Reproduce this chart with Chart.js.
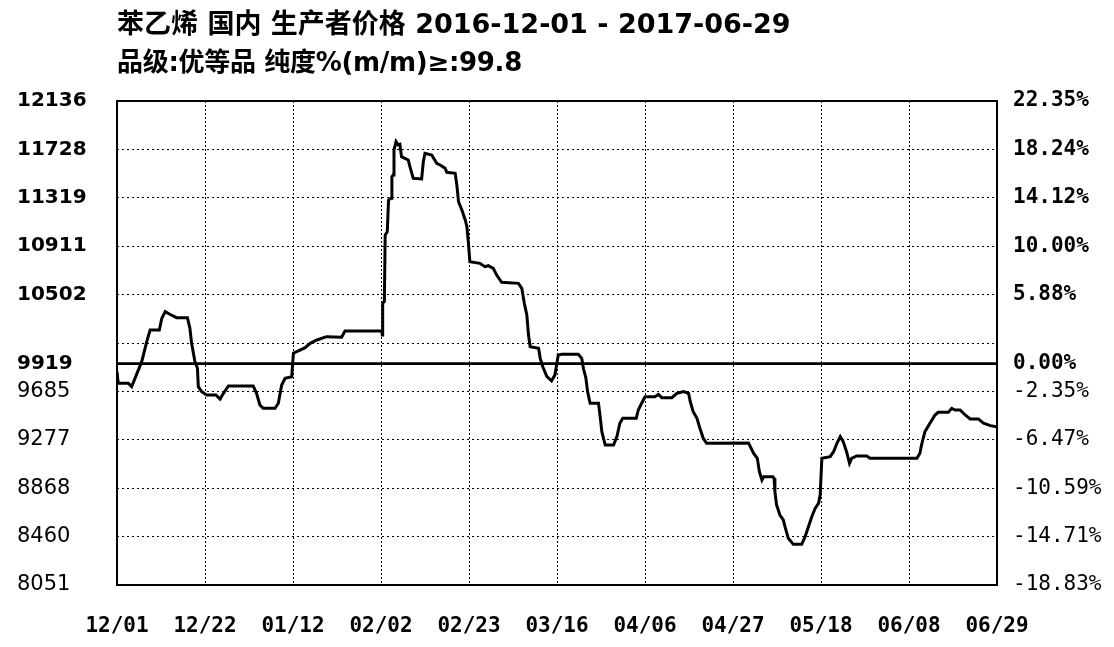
<!DOCTYPE html>
<html>
<head>
<meta charset="utf-8">
<script src="https://cdn.jsdelivr.net/npm/chart.js@4.4.0/dist/chart.umd.min.js"></script>
<style>
  body { margin: 0; background: #fff; }
  #wrap { position: relative; width: 1114px; height: 647px; }
  .title {
    position: absolute; left: 117px; white-space: nowrap; color: #000;
    font-family: "DejaVu Sans", "Noto Sans CJK SC", sans-serif;
    font-weight: bold; font-size: 27px; line-height: 27px;
  }
  canvas { position: absolute; left: 0; top: 0; }
</style>
</head>
<body>
<div id="wrap">
  <canvas id="priceChart" width="1114" height="647"></canvas>
  <div class="title" style="top:10px">苯乙烯 国内 生产者价格 2016-12-01 - 2017-06-29</div>
  <div class="title" style="top:49px; font-size:26px; letter-spacing:-0.3px">品级:优等品 纯度%(m/m)≥:99.8</div>
</div>
<script>
// days since 2016-12-01
const days = [0, 0.3, 2.7, 3.5, 5.9, 7.1, 7.9, 10.1, 10.7, 11.5, 12.6, 14.2, 16.8, 17.4, 17.8, 18.6, 19.2, 19.4, 20.2, 21.4,
  23.6, 24.6, 25.4, 26.6, 32.5, 33.3, 34.1, 34.9, 37.7, 38.5, 39.3, 40.1, 41.7, 42.1, 44.9, 46.1, 47.7, 50.0, 53.6, 54.4,
  63.2, 63.3, 63.4, 63.8, 64.0, 64.5, 64.8, 65.4, 65.6, 65.9, 66.1, 66.6, 67.1, 67.5, 67.9, 68.7, 69.5, 69.9, 70.7, 72.7,
  73.1, 73.5, 75.1, 76.3, 77.1, 78.3, 78.7, 80.7, 81.1, 81.5, 82.3, 83.1, 83.5, 83.9, 84.2, 86.6, 87.8, 88.6, 89.8, 90.6,
  91.8, 95.8, 96.6, 97.2, 97.8, 98.2, 98.6, 100.6, 101.0, 101.6, 102.6, 103.7, 104.5, 104.9, 105.3, 106.1, 110.1, 110.9, 111.3, 111.9,
  112.3, 112.9, 114.9, 115.3, 115.7, 116.5, 118.5, 119.3, 120.0, 120.7, 123.9, 124.4, 125.2, 126.0, 128.4, 129.2, 130.0, 132.4, 133.6, 135.2,
  136.4, 136.8, 137.5, 138.4, 139.1, 139.9, 140.7, 150.7, 151.9, 152.8, 153.3, 153.9, 154.3, 156.5, 156.8, 157.0, 157.4, 158.2, 159.0, 159.4,
  160.2, 161.4, 163.4, 164.2, 165.0, 165.8, 166.6, 167.4, 167.8, 168.2, 170.2, 171.0, 171.8, 172.6, 173.3, 174.1, 174.8, 175.3, 176.5, 178.9,
  179.7, 190.9, 191.6, 192.0, 192.8, 194.0, 195.2, 196.0, 198.4, 199.2, 200.0, 201.2, 202.4, 203.6, 205.6, 206.8, 208.4, 209.8]
const prices = [9851, 9753, 9753, 9725, 9936, 10105, 10203, 10203, 10302, 10358, 10336, 10307, 10307, 10218, 10091, 9936, 9880, 9725, 9683, 9655,
  9655, 9621, 9669, 9731, 9731, 9669, 9570, 9542, 9542, 9585, 9739, 9796, 9809, 10007, 10054, 10091, 10119, 10147, 10142, 10195,
  10195, 10161, 10429, 10443, 11005, 11033, 11300, 11315, 11497, 11511, 11722, 11793, 11765, 11770, 11666, 11652, 11638, 11582, 11483, 11478,
  11624, 11695, 11680, 11610, 11596, 11568, 11534, 11526, 11427, 11286, 11216, 11132, 11075, 10921, 10780, 10766, 10738, 10746, 10724, 10667,
  10606, 10597, 10555, 10429, 10330, 10161, 10062, 10049, 9964, 9893, 9809, 9773, 9823, 9908, 9992, 9998, 9998, 9964, 9880, 9796,
  9683, 9585, 9585, 9472, 9345, 9233, 9233, 9303, 9416, 9458, 9458, 9528, 9585, 9640, 9640, 9660, 9632, 9632, 9669, 9683,
  9669, 9598, 9514, 9458, 9374, 9289, 9247, 9250, 9163, 9120, 9007, 8937, 8965, 8965, 8952, 8839, 8726, 8642, 8600, 8543,
  8445, 8394, 8394, 8459, 8543, 8627, 8698, 8740, 8811, 9120, 9134, 9176, 9247, 9303, 9261, 9176, 9078, 9120, 9140, 9140,
  9120, 9120, 9163, 9233, 9345, 9416, 9486, 9509, 9509, 9542, 9528, 9528, 9486, 9452, 9452, 9416, 9396, 9387]

const basePrice = 9919

const xTickDays = [0, 21, 42, 63, 84, 105, 126, 147, 168, 189, 210]
const xTickLabels = ['12/01', '12/22', '01/12', '02/02', '02/23', '03/16', '04/06', '04/27', '05/18', '06/08', '06/29']

const yTickValues = [12136, 11727.5, 11319, 10910.5, 10502, 10093.5, 9919, 9685, 9276.5, 8868, 8459.5, 8051]
const yTickLabels = ['12136', '11728', '11319', '10911', '10502', '', '9919', '9685', '9277', '8868', '8460', '8051']
const pctTickLabels = ['22.35%', '18.24%', '14.12%', '10.00%', '5.88%', '', '0.00%', '-2.35%', '-6.47%', '-10.59%', '-14.71%', '-18.83%']

const plotBox = {
  id: 'plotBox',
  afterDraw(chart) {
    const { ctx, chartArea: a } = chart
    ctx.save()
    ctx.strokeStyle = '#000'
    ctx.lineWidth = 2
    ctx.strokeRect(a.left, a.top, a.right - a.left, a.bottom - a.top)
    ctx.restore()
  }
}

const setTicks = (values) => (axis) => { axis.ticks = values.map(v => ({ value: v })) }
// labels above the base price are bold, the others are plain
const upperBold = (family, bold, plain) => (c) => {
  const up = c.tick && c.tick.value >= basePrice
  return { family: family, size: up ? bold : plain, weight: up ? 'bold' : 'normal' }
}

const ctx = document.getElementById('priceChart')
new Chart(ctx, {
  type: 'line',
  data: {
    datasets: [
      {
        data: days.map((d, i) => ({ x: d, y: prices[i] })),
        borderColor: '#000',
        borderWidth: 3,
        pointRadius: 0,
        tension: 0,
        order: 0
      },
      {
        data: [{ x: 0, y: basePrice }, { x: 210, y: basePrice }],
        borderColor: '#000',
        borderWidth: 2.8,
        pointRadius: 0,
        order: 1
      }
    ]
  },
  options: {
    responsive: false,
    animation: false,
    layout: { padding: { left: 17, top: 101, right: 0, bottom: 0 } },
    plugins: { legend: { display: false }, tooltip: { enabled: false } },
    scales: {
      x: {
        type: 'linear', min: 0, max: 210,
        afterBuildTicks: setTicks(xTickDays),
        afterFit: (s) => { s.height = 62 },
        grid: { color: '#000', lineWidth: 1, drawTicks: false },
        border: { display: false, dash: [2, 2] },
        ticks: {
          autoSkip: false, maxRotation: 0, padding: 29, color: '#000',
          font: { family: 'DejaVu Sans Mono', size: 21, weight: 'bold' },
          callback: (v, i) => xTickLabels[i]
        }
      },
      y: {
        type: 'linear', position: 'left', min: 8051, max: 12136,
        afterBuildTicks: setTicks(yTickValues),
        afterFit: (s) => { s.width = 100 },
        grid: { color: (c) => c.tick && c.tick.value === basePrice ? 'rgba(0,0,0,0)' : '#000', lineWidth: 1, drawTicks: false },
        border: { display: false, dash: [2, 3] },
        ticks: {
          autoSkip: false, crossAlign: 'far', color: '#000',
          font: upperBold('DejaVu Sans', 20, 21),
          callback: (v, i) => yTickLabels[i]
        }
      },
      y2: {
        type: 'linear', position: 'right', min: 8051, max: 12136,
        afterBuildTicks: setTicks(yTickValues),
        afterFit: (s) => { s.width = 117 },
        grid: { display: false },
        border: { display: false },
        ticks: {
          autoSkip: false, padding: 8, color: '#000',
          font: upperBold('DejaVu Sans Mono', 21, 21),
          callback: (v, i) => pctTickLabels[i]
        }
      }
    }
  },
  plugins: [plotBox]
})
</script>
</body>
</html>
